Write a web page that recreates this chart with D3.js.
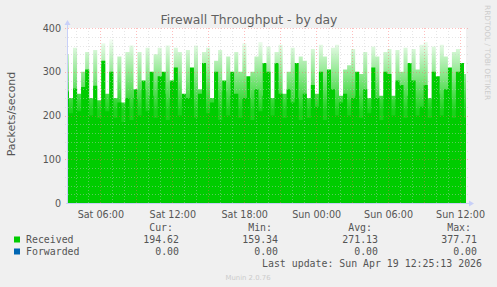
<!DOCTYPE html>
<html>
  <head>
    <meta charset="utf-8" />
    <title>Firewall Throughput - by day</title>
    <script src="https://cdn.jsdelivr.net/npm/d3@7"></script>
    <style>
      body { margin: 0; background: #f0f0f0; }
      svg { display: block; }
    </style>
  </head>
  <body>
    <svg width="497" height="287"></svg>
    <script>
      // packets/second, one sample every 20 minutes
      var received = [
        255, 205, 262, 210, 265, 305, 200, 268, 195, 325,
        210, 300, 195, 230, 185, 240, 190, 260, 200, 280,
        210, 300, 195, 290, 300, 190, 280, 310, 200, 250,
        240, 310, 195, 250, 320, 205, 230, 300, 190, 280,
        200, 300, 250, 195, 240, 290, 190, 260, 210, 320,
        300, 200, 320, 250, 195, 260, 230, 320, 190, 250,
        195, 270, 220, 300, 190, 305, 260, 200, 230, 250,
        200, 240, 300, 195, 260, 205, 310, 240, 190, 300,
        295, 200, 280, 270, 195, 320, 280, 200, 220, 270,
        195, 300, 290, 200, 260, 310, 195, 300, 320, 195
      ];
      // short peaks inside each sample (drawn faded)
      var receivedPeak = [
        340, 240, 355, 250, 300, 345, 240, 350, 235, 365,
        250, 375, 240, 335, 230, 345, 360, 240, 345, 260,
        355, 245, 340, 355, 250, 360, 240, 355, 345, 240,
        350, 250, 360, 260, 345, 355, 240, 325, 350, 255,
        335, 245, 345, 300, 365, 240, 300, 335, 368, 245,
        358, 240, 345, 362, 250, 300, 355, 240, 335, 325,
        240, 352, 250, 362, 335, 240, 355, 362, 245, 305,
        315, 352, 245, 295, 345, 240, 358, 335, 245, 345,
        352, 245, 350, 300, 355, 245, 352, 305, 362, 368,
        240, 358, 250, 362, 335, 240, 345, 352, 245, 295
      ];
      var yTicks = [0, 100, 200, 300, 400];
      var legendNames = ["Received", "Forwarded"];
      var legendColors = ["#00cc00", "#0066b3"];
      var legendCur = ["194.62", "0.00"];
      var legendMin = ["159.34", "0.00"];
      var legendAvg = ["271.13", "0.00"];
      var legendMax = ["377.71", "0.00"];
      var lastUpdate = "Last update: Sun Apr 19 12:25:13 2026";

      var svg = d3.select("svg");
      var x0 = 67, x1 = 466, y0 = 203, y1 = 28;

      var start = new Date(2026, 3, 18, 3, 13),
        end = new Date(2026, 3, 19, 12, 30);
      var x = d3.scaleTime().domain([start, end]).range([x0, x1]);
      var y = d3.scaleLinear().domain([0, 400]).range([y0, y1]);

      var step = (end - start) / (received.length - 1);
      var times = received.map(function (d, i) {
        return new Date(+start + i * step);
      });

      // plot background
      svg.append("rect").attr("x", x0).attr("y", y1)
        .attr("width", x1 - x0).attr("height", y0 - y1).attr("fill", "#ffffff");

      var defs = svg.append("defs");
      var grad = defs.append("linearGradient").attr("id", "fade")
        .attr("gradientUnits", "userSpaceOnUse")
        .attr("x1", 0).attr("x2", 0).attr("y1", y(210)).attr("y2", y(375));
      grad.append("stop").attr("offset", 0).attr("stop-color", "#00cc00").attr("stop-opacity", 0.9);
      grad.append("stop").attr("offset", 1).attr("stop-color", "#00cc00").attr("stop-opacity", 0.03);

      var area = function (vals) {
        return d3.area()
          .curve(d3.curveStep)
          .x(function (d, i) { return x(times[i]); })
          .y0(y(0))
          .y1(function (d) { return y(d); })(vals);
      };

      svg.append("path").attr("d", area(receivedPeak)).attr("fill", "url(#fade)");
      svg.append("path").attr("d", area(received)).attr("fill", "#00cc00");

      // grid, drawn over the data like rrdtool does
      var hours = d3.timeHour.every(1).range(start, end);
      var major = d3.timeHour.every(3).range(start, end);
      var minorY = d3.range(20, 400, 20).filter(function (v) { return v % 100 !== 0; });
      var minorColor = "rgba(200,200,200,0.45)", majorColor = "rgba(255,100,100,0.42)";

      svg.append("g").selectAll("line").data(minorY).enter().append("line")
        .attr("x1", x0 - 2).attr("x2", x1 + 2)
        .attr("y1", function (d) { return Math.round(y(d)) + 0.5; })
        .attr("y2", function (d) { return Math.round(y(d)) + 0.5; })
        .attr("stroke", minorColor).attr("stroke-dasharray", "1,2");
      svg.append("g").selectAll("line").data(hours.filter(function (h) { return h.getHours() % 3 !== 0; }))
        .enter().append("line")
        .attr("x1", function (d) { return Math.round(x(d)) + 0.5; })
        .attr("x2", function (d) { return Math.round(x(d)) + 0.5; })
        .attr("y1", y1).attr("y2", y0 + 2)
        .attr("stroke", minorColor).attr("stroke-dasharray", "1,2");
      svg.append("g").selectAll("line").data(yTicks.slice(1)).enter().append("line")
        .attr("x1", x0 - 2).attr("x2", x1 + 2)
        .attr("y1", function (d) { return Math.round(y(d)) + 0.5; })
        .attr("y2", function (d) { return Math.round(y(d)) + 0.5; })
        .attr("stroke", majorColor).attr("stroke-dasharray", "1,2");
      svg.append("g").selectAll("line").data(major).enter().append("line")
        .attr("x1", function (d) { return Math.round(x(d)) + 0.5; })
        .attr("x2", function (d) { return Math.round(x(d)) + 0.5; })
        .attr("y1", y1).attr("y2", y0 + 2)
        .attr("stroke", majorColor).attr("stroke-dasharray", "1,2");

      // axes with arrows
      var axisColor = "#c8d0f8";
      svg.append("line").attr("x1", x0 + 0.5).attr("x2", x0 + 0.5)
        .attr("y1", y0 + 1).attr("y2", y1 - 4).attr("stroke", axisColor);
      svg.append("line").attr("x1", x0 - 1).attr("x2", x1 + 4)
        .attr("y1", y0 + 0.5).attr("y2", y0 + 0.5).attr("stroke", axisColor);
      svg.append("path").attr("d", d3.line()([[x0 - 2.5, y1 - 3], [x0 + 0.5, y1 - 8], [x0 + 3.5, y1 - 3]]) + "Z")
        .attr("fill", axisColor);
      svg.append("path").attr("d", d3.line()([[x1 + 3, y0 - 2.5], [x1 + 8, y0 + 0.5], [x1 + 3, y0 + 3.5]]) + "Z")
        .attr("fill", axisColor);

      var labelFont = "DejaVu Sans, sans-serif";
      var textColor = "#555555";

      var yAxis = svg.append("g").attr("transform", "translate(" + (x0 - 6) + ",0)")
        .call(d3.axisLeft(y).tickValues(yTicks).tickSize(0).tickPadding(0));
      yAxis.select(".domain").remove();
      yAxis.selectAll("text").attr("font-family", labelFont).attr("font-size", 9.6)
        .attr("fill", textColor);

      var xAxis = svg.append("g").attr("transform", "translate(0," + (y0 + 8) + ")")
        .call(d3.axisBottom(x).ticks(d3.timeHour.every(6)).tickFormat(d3.timeFormat("%a %H:%M"))
          .tickSize(0).tickPadding(0));
      xAxis.select(".domain").remove();
      xAxis.selectAll("text").attr("font-family", labelFont).attr("font-size", 9.6)
        .attr("fill", textColor);

      // title and labels
      svg.append("text").attr("x", 249).attr("y", 23.5).attr("text-anchor", "middle")
        .attr("font-family", labelFont).attr("font-size", 12.4).attr("fill", "#606060")
        .text("Firewall Throughput - by day");
      svg.append("text").attr("transform", "translate(15,114) rotate(-90)")
        .attr("text-anchor", "middle").attr("font-family", labelFont)
        .attr("font-size", 11).attr("fill", textColor).text("Packets/second");
      svg.append("text").attr("transform", "translate(485,5) rotate(90)")
        .attr("font-family", labelFont).attr("font-size", 7.4).attr("fill", "#cccccc")
        .text("RRDTOOL / TOBI OETIKER");
      svg.append("text").attr("x", 248).attr("y", 279.5).attr("text-anchor", "middle")
        .attr("font-family", labelFont).attr("font-size", 6.9).attr("fill", "#cccccc")
        .text("Munin 2.0.76");

      // legend
      var mono = "DejaVu Sans Mono, monospace";
      var lg = svg.append("g").attr("font-family", mono).attr("font-size", 9.9).attr("fill", textColor);
      var heads = [["Cur:", 173], ["Min:", 272], ["Avg:", 372], ["Max:", 471]];
      heads.forEach(function (h) {
        lg.append("text").attr("x", h[1]).attr("y", 230.5).attr("text-anchor", "end").text(h[0]);
      });
      legendNames.forEach(function (name, i) {
        var by = 242.5 + i * 12;
        svg.append("rect").attr("x", 14).attr("y", by - 6).attr("width", 6).attr("height", 6)
          .attr("fill", legendColors[i]);
        lg.append("text").attr("x", 26).attr("y", by).text(name);
        [[legendCur, 179], [legendMin, 278], [legendAvg, 378], [legendMax, 477]].forEach(function (c) {
          lg.append("text").attr("x", c[1]).attr("y", by).attr("text-anchor", "end").text(c[0][i]);
        });
      });
      lg.append("text").attr("x", 482).attr("y", 266.5).attr("text-anchor", "end").text(lastUpdate);
    </script>
  </body>
</html>
